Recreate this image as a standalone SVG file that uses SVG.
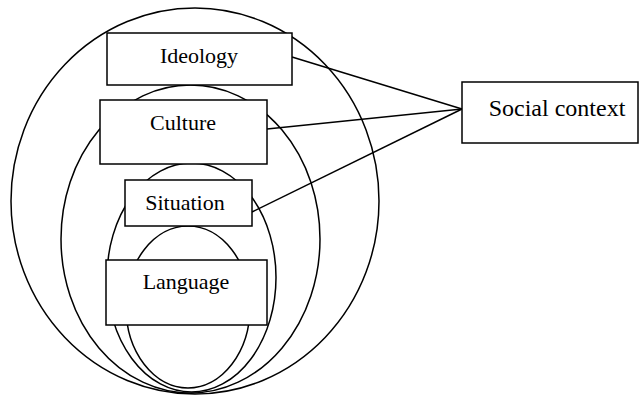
<svg xmlns="http://www.w3.org/2000/svg" width="642" height="396" viewBox="0 0 642 396">
<style>
.e{fill:none;stroke:#000;stroke-width:1.5}
.b{fill:#fff;stroke:#000;stroke-width:1.5}
.c{fill:none;stroke:#000;stroke-width:1.5}
text{font-family:"Liberation Serif","Times New Roman",serif;font-size:22px;fill:#000;text-anchor:middle}
</style>
<rect width="642" height="396" fill="#fff"/>
<g id="circles">
<ellipse class="e" cx="195" cy="201" rx="184" ry="193"/>
<ellipse class="e" cx="190.5" cy="239" rx="129.5" ry="154"/>
<ellipse class="e" cx="191.5" cy="277.5" rx="84.5" ry="114.5"/>
<ellipse class="e" cx="188" cy="307" rx="62" ry="81"/>
</g>
<g id="connectors">
<line class="c" x1="292" y1="57" x2="462" y2="109"/>
<line class="c" x1="267" y1="129" x2="462" y2="109"/>
<line class="c" x1="252" y1="212" x2="462" y2="109"/>
</g>
<g id="ideology">
<rect class="b" x="107" y="33" width="185" height="52"/>
<text x="199" y="63">Ideology</text>
</g>
<g id="culture">
<rect class="b" x="100" y="100" width="167" height="64"/>
<text x="183" y="130">Culture</text>
</g>
<g id="situation">
<rect class="b" x="125" y="180" width="127" height="46"/>
<text x="185" y="210">Situation</text>
</g>
<g id="language">
<rect class="b" x="106" y="260" width="161" height="65"/>
<text x="186" y="289">Language</text>
</g>
<g id="social-context">
<rect class="b" x="462" y="82" width="176" height="61"/>
<text x="557" y="116" style="font-size:24px">Social context</text>
</g>
</svg>
